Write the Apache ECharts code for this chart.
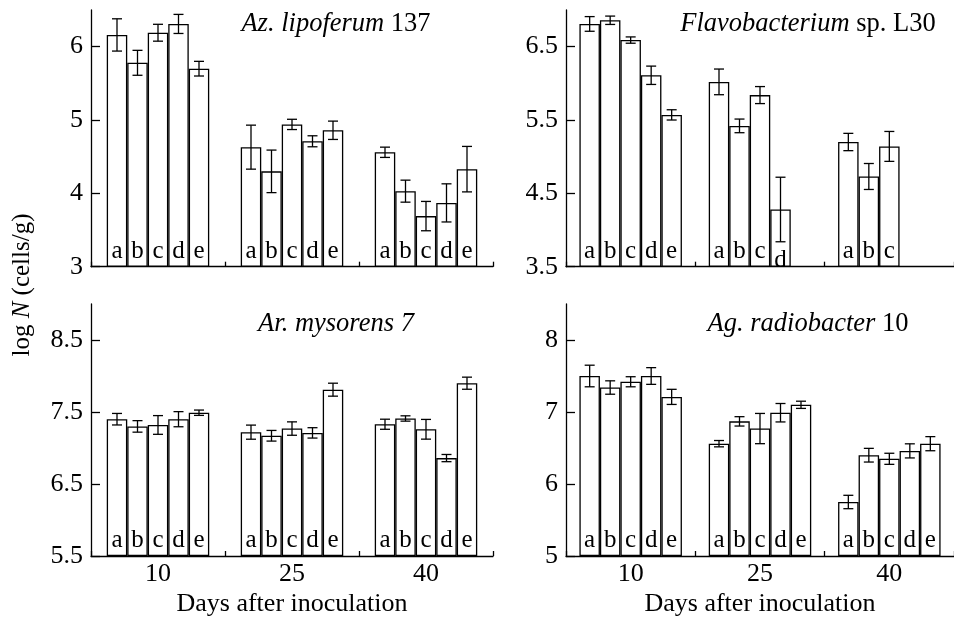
<!DOCTYPE html>
<html><head><meta charset="utf-8">
<script src="https://cdn.jsdelivr.net/npm/echarts@6/dist/echarts.min.js"></script>
<style>html,body{margin:0;padding:0;background:#fff}#c{width:954px;height:621px}</style>
</head><body><div id="c"></div>
<script>
// ---- data ----
const days = ['10', '25', '40'];
const treatments = ['a', 'b', 'c', 'd', 'e'];

// values[dayIndex][treatmentIndex], log N (cells/g)
const azVal = [[6.16, 5.78, 6.19, 6.31, 5.70], [4.63, 4.30, 4.94, 4.71, 4.86], [4.56, 4.03, 3.69, 3.87, 4.33]];
const azErr = [[0.22, 0.17, 0.115, 0.13, 0.10], [0.30, 0.29, 0.07, 0.075, 0.125], [0.07, 0.15, 0.20, 0.26, 0.31]];

const flVal = [[6.81, 6.86, 6.59, 6.11, 5.57], [6.02, 5.42, 5.84, 4.28, null], [5.20, 4.73, 5.14, null, null]];
const flErr = [[0.10, 0.057, 0.043, 0.125, 0.07], [0.175, 0.093, 0.116, 0.44, null], [0.118, 0.177, 0.204, null, null]];

const arVal = [[7.40, 7.30, 7.32, 7.40, 7.49], [7.22, 7.17, 7.27, 7.21, 7.81], [7.33, 7.41, 7.26, 6.86, 7.90]];
const arErr = [[0.08, 0.08, 0.13, 0.105, 0.037], [0.098, 0.074, 0.093, 0.072, 0.09], [0.07, 0.037, 0.137, 0.05, 0.084]];

const agVal = [[7.50, 7.34, 7.42, 7.50, 7.21], [6.56, 6.87, 6.77, 6.99, 7.10], [5.75, 6.40, 6.35, 6.46, 6.56]];
const agErr = [[0.15, 0.093, 0.07, 0.116, 0.105], [0.044, 0.065, 0.21, 0.128, 0.05], [0.093, 0.095, 0.077, 0.098, 0.098]];

const azTicks = [3, 4, 5, 6];
const flTicks = [3.5, 4.5, 5.5, 6.5];
const arTicks = [5.5, 6.5, 7.5, 8.5];
const agTicks = [5, 6, 7, 8];

const yLabel = 'log N (cells/g)';
const xLabel = 'Days after inoculation';

// ---- layout / style ----
const FONT = 'Liberation Serif';
const BW = 20.5;
const panels = [
  { vals: azVal, errs: azErr, ticks: azTicks, min: 3, max: 6.5, grid: { left: 91, top: 10, width: 402, height: 256.7 }, title: '{i|Az. lipoferum}{n| 137}', tx: 336, ty: 24, bottom: false },
  { vals: flVal, errs: flErr, ticks: flTicks, min: 3.5, max: 7.0, grid: { left: 566, top: 10, width: 396, height: 256.7 }, title: '{i|Flavobacterium}{n| sp. L30}', tx: 808, ty: 24, bottom: false },
  { vals: arVal, errs: arErr, ticks: arTicks, min: 5.5, max: 9.0, grid: { left: 91, top: 304, width: 402, height: 252 }, title: '{i|Ar. mysorens 7}', tx: 336, ty: 324, bottom: true },
  { vals: agVal, errs: agErr, ticks: agTicks, min: 5, max: 8.5, grid: { left: 566, top: 304, width: 396, height: 252 }, title: '{i|Ag. radiobacter}{n| 10}', tx: 808, ty: 324, bottom: true }
];

const lineStyle = { color: '#000', width: 1.3 };

function errRender(params, api) {
  const cat = api.value(0), s = api.value(1), v = api.value(2), e = api.value(3);
  const top = api.coord([cat, v + e]);
  const bot = api.coord([cat, v - e]);
  const x = top[0] + (s - 2) * BW;
  const hw = 5;
  const st = { stroke: '#000', lineWidth: 1.3 };
  return {
    type: 'group', children: [
      { type: 'line', shape: { x1: x, y1: top[1], x2: x, y2: bot[1] }, style: st },
      { type: 'line', shape: { x1: x - hw, y1: top[1], x2: x + hw, y2: top[1] }, style: st },
      { type: 'line', shape: { x1: x - hw, y1: bot[1], x2: x + hw, y2: bot[1] }, style: st }
    ]
  };
}

const grids = [], xAxes = [], yAxes = [], series = [], graphics = [];
panels.forEach((p, pi) => {
  grids.push(p.grid);
  xAxes.push({
    type: 'category', gridIndex: pi, data: days,
    axisLine: { lineStyle: lineStyle },
    axisTick: { show: true, inside: true, length: 5, interval: 0, lineStyle: lineStyle },
    axisLabel: { show: p.bottom, fontFamily: FONT, fontSize: 26, color: '#000', margin: 5 },
    name: p.bottom ? xLabel : '', nameLocation: 'middle', nameGap: 35,
    nameTextStyle: { fontFamily: FONT, fontSize: 26, color: '#000' },
    splitLine: { show: false }
  });
  yAxes.push({
    type: 'value', gridIndex: pi, min: p.min, max: p.max, startValue: p.min,
    axisLine: { show: true, lineStyle: lineStyle },
    axisTick: { show: true, inside: true, length: 9, customValues: p.ticks, lineStyle: lineStyle },
    axisLabel: { fontFamily: FONT, fontSize: 26, color: '#000', margin: 8, customValues: p.ticks },
    splitLine: { show: false }
  });
  treatments.forEach((t, ti) => {
    series.push({
      type: 'bar', xAxisIndex: pi, yAxisIndex: pi, barWidth: BW, barGap: '0%',
      data: p.vals.map((d, di) => {
        const v = d[ti];
        if (v === null) return '-';
        const item = { value: v };
        // low bar whose letter sits on the axis line in the original
        if (pi === 1 && di === 1 && ti === 3) item.label = { offset: [0, 9] };
        return item;
      }),
      itemStyle: { color: '#fff', borderColor: '#000', borderWidth: 1.3 },
      label: { show: true, position: 'insideBottom', distance: 3, formatter: t, fontFamily: FONT, fontSize: 25, color: '#000' },
      emphasis: { disabled: true },
      animation: false, z: 2
    });
  });
  const errData = [];
  p.vals.forEach((d, di) => d.forEach((v, ti) => {
    if (v !== null) errData.push([di, ti, v, p.errs[di][ti]]);
  }));
  series.push({
    type: 'custom', xAxisIndex: pi, yAxisIndex: pi, renderItem: errRender,
    encode: { x: 0, y: 2 }, data: errData, z: 5, animation: false, silent: true
  });
  graphics.push({
    type: 'text', x: p.tx, y: p.ty,
    style: {
      text: p.title, align: 'center', verticalAlign: 'middle', fill: '#000',
      font: '26.5px "Liberation Serif"',
      rich: {
        i: { fontStyle: 'italic', fontFamily: FONT, fontSize: 26.5, fill: '#000' },
        n: { fontFamily: FONT, fontSize: 26.5, fill: '#000' }
      }
    }
  });
});

graphics.push({
  type: 'text', x: 22, y: 285, rotation: Math.PI / 2,
  style: {
    text: '{n|log }{i|N}{n| (cells/g)}', align: 'center', verticalAlign: 'middle', fill: '#000',
    font: '25px "Liberation Serif"',
    rich: {
      i: { fontStyle: 'italic', fontFamily: FONT, fontSize: 25, fill: '#000' },
      n: { fontFamily: FONT, fontSize: 25, fill: '#000' }
    }
  }
});

const chart = echarts.init(document.getElementById('c'), null, { renderer: 'canvas' });
chart.setOption({
  backgroundColor: '#fff',
  animation: false,
  grid: grids, xAxis: xAxes, yAxis: yAxes, series: series, graphic: graphics
});
</script>
</body></html>
